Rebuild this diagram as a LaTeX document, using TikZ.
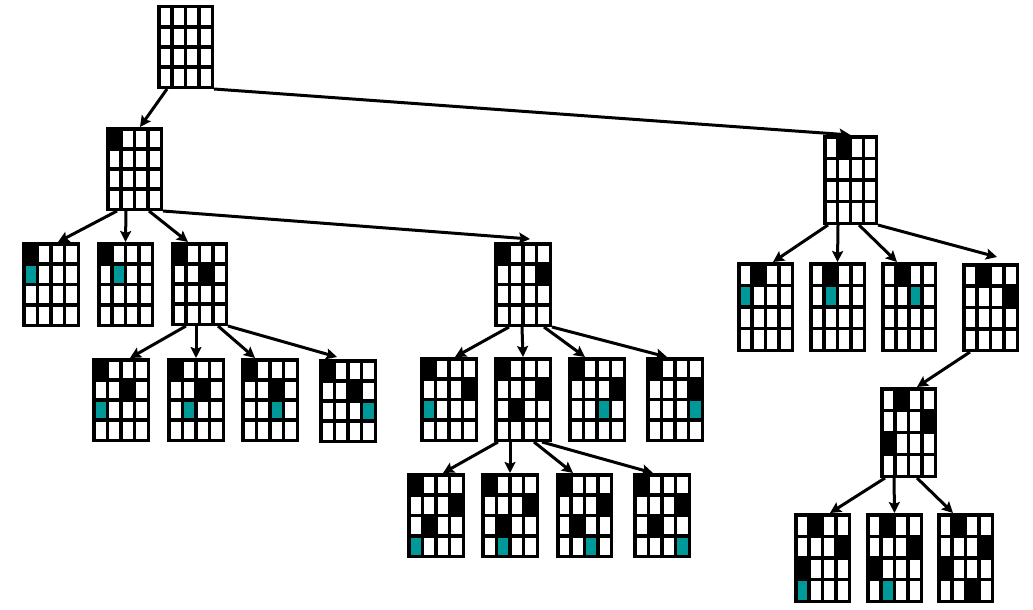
\documentclass[tikz,border=0pt]{standalone}
\usetikzlibrary{arrows.meta,calc}
\definecolor{qteal}{RGB}{0,153,153}
\tikzset{
  gbox/.style={rectangle,inner sep=0pt,outer sep=0pt,draw=none},
  gline/.style={line width=3.5pt,black,line cap=rect},
  arr/.style={line width=3pt,black,-{Stealth[length=11pt,width=11pt,inset=2pt]}},
}
\newcommand\qgrid[6]{%
  \pgfmathsetmacro\qx{#2+1.75}\pgfmathsetmacro\qy{#3+1.75}%
  \pgfmathsetmacro\qw{(#4-3.5)/4}\pgfmathsetmacro\qh{(#5-3.5)/4}%
  \node[gbox,minimum width=#4pt,minimum height=#5pt] (#1) at (#2+#4/2,#3+#5/2) {};
  \foreach \c/\r/\k in {#6} {\fill[\k] (\qx+\c*\qw,\qy+\r*\qh) rectangle ++(\qw,\qh);}
  \foreach \i in {0,...,4} {%
    \draw[gline] (\qx+\i*\qw,\qy) -- ++(0,4*\qh);
    \draw[gline] (\qx,\qy+\i*\qh) -- ++(4*\qw,0);}
}
\begin{document}
\begin{tikzpicture}[x=1pt,y=-1pt]
\useasboundingbox[fill=white] (0,0) rectangle (1033,610);
% level 0
\qgrid{root}{157}{5}{57}{84}{0/0/white}
% level 1
\qgrid{A}{106}{127}{57}{84}{0/0/black}
\qgrid{B}{823}{135}{55}{90}{1/0/black}
% level 2 left
\qgrid{A1}{22}{242}{58}{85}{0/0/black,0/1/qteal}
\qgrid{A2}{97}{242}{57}{85}{0/0/black,1/1/qteal}
\qgrid{A3}{171}{242}{57}{84}{0/0/black,2/1/black}
\qgrid{A4}{494}{242}{58}{85}{0/0/black,3/1/black}
% under A3
\qgrid{C1}{92}{358}{58}{84}{0/0/black,2/1/black,0/2/qteal}
\qgrid{C2}{167}{358}{58}{84}{0/0/black,2/1/black,1/2/qteal}
\qgrid{C3}{241}{358}{58}{84}{0/0/black,2/1/black,2/2/qteal}
\qgrid{C4}{319}{359}{58}{84}{0/0/black,2/1/black,3/2/qteal}
% under A4
\qgrid{D1}{420}{357}{58}{85}{0/0/black,3/1/black,0/2/qteal}
\qgrid{D2}{494}{357}{58}{85}{0/0/black,3/1/black,1/2/black}
\qgrid{D3}{568}{357}{58}{85}{0/0/black,3/1/black,2/2/qteal}
\qgrid{D4}{646}{357}{58}{85}{0/0/black,3/1/black,3/2/qteal}
% under D2
\qgrid{E1}{407}{473}{58}{85}{0/0/black,3/1/black,1/2/black,0/3/qteal}
\qgrid{E2}{481}{473}{58}{85}{0/0/black,3/1/black,1/2/black,1/3/qteal}
\qgrid{E3}{556}{473}{57}{85}{0/0/black,3/1/black,1/2/black,2/3/qteal}
\qgrid{E4}{633}{473}{58}{85}{0/0/black,3/1/black,1/2/black,3/3/qteal}
% under B
\qgrid{B1}{737}{262}{57}{90}{1/0/black,0/1/qteal}
\qgrid{B2}{809}{262}{57}{90}{1/0/black,1/1/qteal}
\qgrid{B3}{881}{262}{56}{90}{1/0/black,2/1/qteal}
\qgrid{B4}{962}{263}{57}{89}{1/0/black,3/1/black}
% under B4
\qgrid{F}{880}{387}{57}{91}{1/0/black,3/1/black,0/2/black}
% under F
\qgrid{G1}{794}{513}{57}{90}{1/0/black,3/1/black,0/2/black,0/3/qteal}
\qgrid{G2}{866}{513}{57}{90}{1/0/black,3/1/black,0/2/black,1/3/qteal}
\qgrid{G3}{937}{513}{57}{90}{1/0/black,3/1/black,0/2/black,2/3/black}
% connectors
\draw[arr] ($(root.south west)+(10,0)$) -- ($(A.north)+(5.5,0)$);
\draw[arr] (root.south east) -- (B.north);
\draw[arr] ($(A.south west)+(11,0)$) -- ($(A1.north)+(7,0)$);
\draw[arr] ($(A.south west)+(20,0)$) -- ($(A2.north)+(0,0)$);
\draw[arr] ($(A.south west)+(43,0)$) -- ($(A3.north)+(-11.5,0)$);
\draw[arr] (A.south east) -- ($(A4.north)+(7,-3)$);
\draw[arr] ($(A3.south west)+(15,0)$) -- ($(C1.north)+(9,0)$);
\draw[arr] ($(A3.south west)+(25,0)$) -- ($(C2.north)+(0,0)$);
\draw[arr] ($(A3.south west)+(47,0)$) -- ($(C3.north)+(-15,0)$);
\draw[arr] ($(A3.south west)+(57,0)$) -- ($(C4.north)+(-11,-2)$);
\draw[arr] ($(A4.south west)+(15,0)$) -- ($(D1.north)+(6,0)$);
\draw[arr] ($(A4.south west)+(28,0)$) -- ($(D2.north)+(0,0)$);
\draw[arr] ($(A4.south west)+(50,0)$) -- ($(D3.north)+(-12,0)$);
\draw[arr] ($(A4.south west)+(58,0)$) -- ($(D4.north)+(-8,0)$);
\draw[arr] ($(D2.south west)+(4,0)$) -- ($(E1.north)+(7,0)$);
\draw[arr] ($(D2.south west)+(16,0)$) -- ($(E2.north)+(0,0)$);
\draw[arr] ($(D2.south west)+(40,0)$) -- ($(E3.north)+(-11.5,0)$);
\draw[arr] ($(D2.south west)+(48,0)$) -- ($(E4.north)+(-9,0)$);
\draw[arr] ($(B.south west)+(5,0)$) -- ($(B1.north)+(7.5,0)$);
\draw[arr] ($(B.south west)+(15,0)$) -- ($(B2.north)+(0,0)$);
\draw[arr] ($(B.south west)+(36,0)$) -- ($(B3.north)+(-12,0)$);
\draw[arr] (B.south east) -- ($(B4.north)+(6.5,-6)$);
\draw[arr] ($(B4.south west)+(8,0)$) -- ($(F.north)+(8.5,0)$);
\draw[arr] ($(F.south west)+(5,0)$) -- ($(G1.north)+(7.5,0)$);
\draw[arr] ($(F.south west)+(14,0)$) -- ($(G2.north)+(0,0)$);
\draw[arr] ($(F.south west)+(37,0)$) -- ($(G3.north)+(-12.5,0)$);
\end{tikzpicture}
\end{document}
